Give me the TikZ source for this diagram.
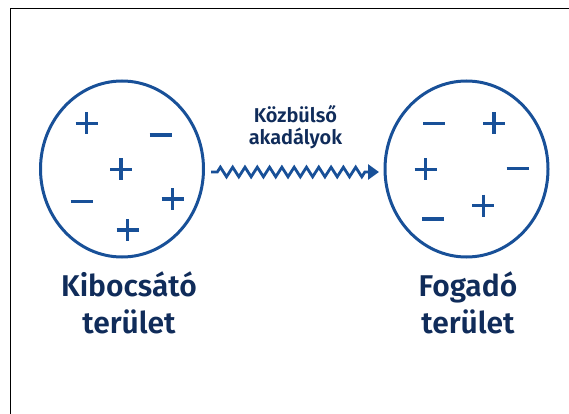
\documentclass[tikz,border=0pt]{standalone}
\usepackage{fontspec}
\setmainfont{Fira Sans}[BoldFont={Fira Sans SemiBold}]
\usetikzlibrary{shapes.geometric,decorations.pathmorphing,arrows.meta}
\definecolor{zonec}{RGB}{24,80,152}
\definecolor{inkc}{RGB}{16,44,90}
\begin{document}
\begin{tikzpicture}[x=1pt,y=-1pt,
  zone/.style={ellipse,draw=zonec,line width=3pt,minimum width=163pt,minimum height=176pt,inner sep=0pt,outer sep=0pt},
  sign/.style={draw=zonec,line width=3.3pt},
  biglab/.style={text=inkc,align=center,inner sep=0pt,font=\fontsize{30}{37}\selectfont\bfseries},
  midlab/.style={text=inkc,align=center,inner sep=0pt,font=\fontsize{20}{22}\selectfont\bfseries},
  wave/.style={draw=zonec,line width=2.8pt,decorate,
    decoration={zigzag,segment length=12.3,amplitude=4.8,pre=lineto,pre length=6.3,post=lineto,post length=11},
    -{Triangle[length=11pt,width=15pt]}},
  pics/plus/.style={code={\draw[sign] (-11,0) -- (11,0) (0,-11) -- (0,11);}},
  pics/minus/.style={code={\draw[sign] (-11,0) -- (11,0);}}
]
\useasboundingbox (0,0) rectangle (569,414);
\draw[black,line width=1pt] (10.3,414) -- (10.3,8.3) -- (569,8.3);

\node[zone] (emit) at (122,169) {};
\node[zone] (recv) at (466.5,169) {};

% signs, emitting zone
\pic at (86.7,123.3) {plus};
\pic at (160.7,135) {minus};
\pic at (121,169.3) {plus};
\pic at (81.7,201.7) {minus};
\pic at (172.7,199) {plus};
\pic at (127.7,230) {plus};

% signs, receiving zone
\pic at (434.3,123.3) {minus};
\pic at (494,123.3) {plus};
\pic at (425.7,169.3) {plus};
\pic at (517.7,168.3) {minus};
\pic at (483.3,205.7) {plus};
\pic at (433.3,219) {minus};

\draw[wave] ([shift={(7.5,3)}]emit.east) -- ([shift={(-6,3)}]recv.west);

\node[midlab,anchor=base] (obst) at (295.5,145) {Közbülső\\akadályok};
\node[biglab,anchor=base] (emitlab) at (129,333) {Kibocsátó\\terület};
\node[biglab,anchor=base] (recvlab) at (468,333) {Fogadó\\terület};
\end{tikzpicture}
\end{document}
